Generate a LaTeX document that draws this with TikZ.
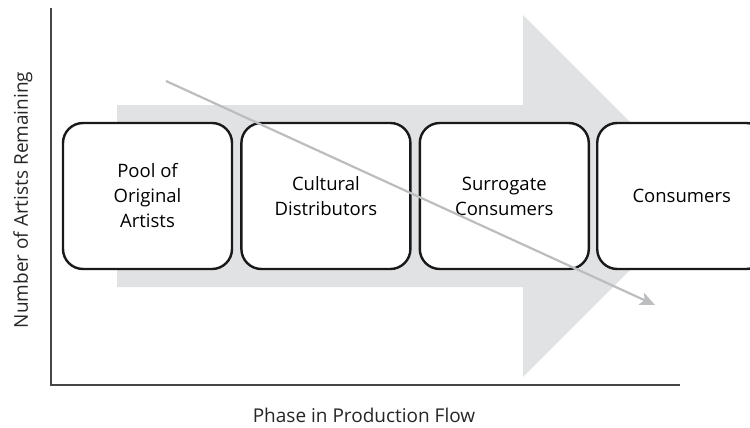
\documentclass[tikz,border=0pt]{standalone}
\usepackage{fontspec}
\setmainfont{Open Sans}
\usetikzlibrary{positioning,arrows.meta}
\definecolor{flowGrey}{RGB}{225,226,227}
\definecolor{dropGrey}{RGB}{188,189,191}
\definecolor{axisGrey}{RGB}{70,70,70}

\tikzset{
  phase/.style={draw=black!90, line width=2.4pt, rounded corners=20pt, fill=white,
    minimum width=169pt, minimum height=146pt, align=center,
    font=\fontsize{18.5}{25}\selectfont},
  axislabel/.style={font=\fontsize{19}{22}\selectfont, text=black!85}
}

\begin{document}
\begin{tikzpicture}[x=1pt,y=-1pt]
  \useasboundingbox (0,0) rectangle (750,428);

  % Broad flow arrow in the back
  \fill[flowGrey] (117,105) -- (523,105) -- (523,15) -- (704,196)
    -- (523,377) -- (523,287) -- (117,287) -- cycle;

  % Axes
  \draw[axisGrey, line width=1.4pt] (51,8) -- (51,385) -- (680,385);
  \node[axislabel, rotate=90] (ylab) at (23,200) {Number of Artists Remaining};
  \node[axislabel] (xlab) at (364,415) {Phase in Production Flow};

  % Phases
  \node[phase] (pool) at (147.5,196) {Pool of\\Original\\Artists};
  \node[phase, right=7pt of pool] (distrib) {Cultural\\Distributors};
  \node[phase, right=7pt of distrib] (surrogate) {Surrogate\\Consumers};
  \node[phase, right=6pt of surrogate] (consumers) {Consumers};

  % Falling number of artists
  \coordinate (manyart) at (166,81);
  \coordinate (fewart) at (655,305);
  \draw[dropGrey, line width=2.2pt, -{Stealth[length=15pt, width=13pt, inset=3.5pt]}] (manyart) -- (fewart);
\end{tikzpicture}
\end{document}
